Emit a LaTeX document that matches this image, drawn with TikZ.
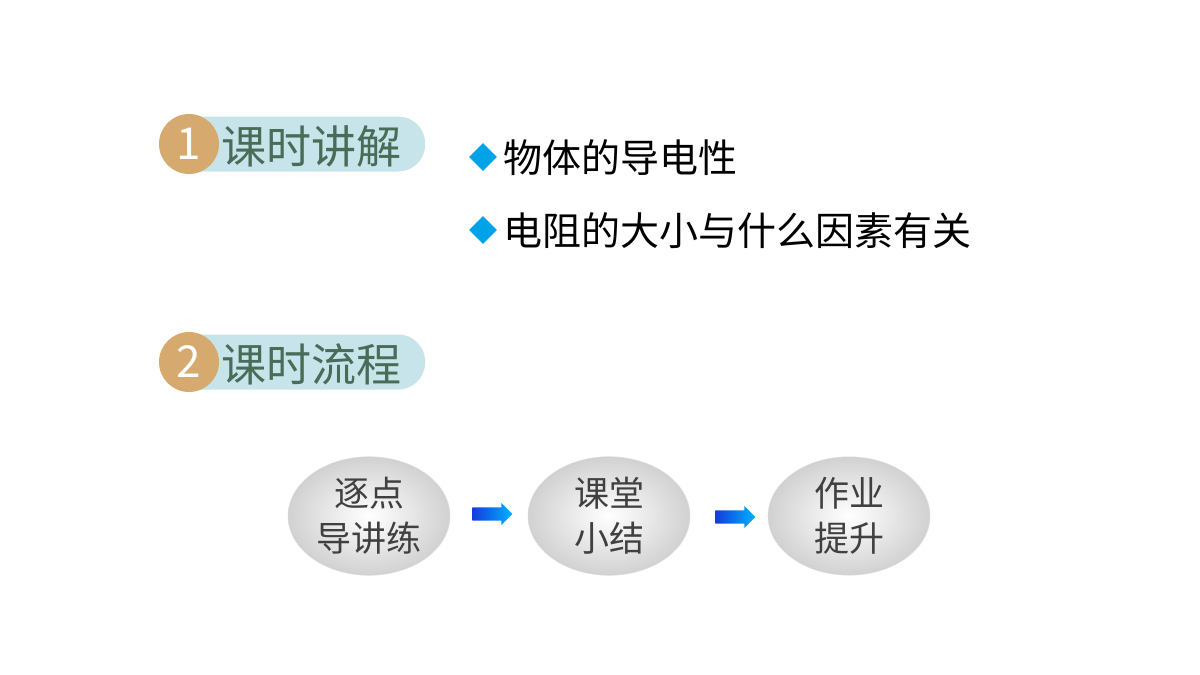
\documentclass[tikz,border=0pt]{standalone}
\usepackage{fontspec}
\setmainfont{Noto Sans CJK SC}
\usetikzlibrary{shapes,arrows,positioning,calc}
\definecolor{badgetan}{RGB}{214,170,110}
\definecolor{pillblue}{RGB}{198,228,234}
\definecolor{titlegreen}{RGB}{72,108,88}
\definecolor{bulletcyan}{RGB}{0,162,232}
\definecolor{arrowblue}{RGB}{20,60,220}
\tikzset{
  pill/.style={fill=pillblue,rounded corners=27pt,minimum width=262pt,minimum height=55pt,anchor=west},
  badge/.style={circle,fill=badgetan,minimum size=60pt,inner sep=0pt,text=white,font=\fontsize{44}{44}\selectfont},
  title/.style={text=titlegreen,font=\fontsize{45}{48}\selectfont,anchor=west},
  bullet/.style={diamond,fill=bulletcyan,minimum size=28pt,inner sep=0pt},
  item/.style={font=\fontsize{39}{42}\selectfont,anchor=west},
  stepball/.style={ellipse,minimum width=162pt,minimum height=116pt,inner color=white,outer color=black!18,draw=black!12,text=black!75,align=center,font=\fontsize{35}{45}\selectfont},
  flowarrow/.style={single arrow,minimum width=22pt,single arrow head extend=4pt,minimum height=40pt,inner xsep=0pt,inner ysep=6pt,left color=arrowblue,right color=cyan!70!blue}
}
\begin{document}
\begin{tikzpicture}[x=1pt,y=-1pt]
  \useasboundingbox (0,0) rectangle (1200,675);
  % section headings
  \node[pill] (pill1) at (163,144) {};
  \node[badge] (badge1) at (189,144) {1};
  \node[title] (title1) at (218,146) {课时讲解};
  \node[pill] (pill2) at (163,362) {};
  \node[badge] (badge2) at (189,362) {2};
  \node[title] (title2) at (218,364) {课时流程};
  % topics
  \node[bullet] (dot1) at (483,157) {};
  \node[item] (item1) at (500,158) {物体的导电性};
  \node[bullet] (dot2) at (483,230) {};
  \node[item] (item2) at (500,231) {电阻的大小与什么因素有关};
  % flow
  \node[stepball] (ball1) at (369,516) {逐点\\导讲练};
  \node[stepball] (ball2) at (609,516) {课堂\\小结};
  \node[stepball] (ball3) at (849,516) {作业\\提升};
  \node[flowarrow] (arr1) at (489,514) {};
  \node[flowarrow] (arr2) at (732,517) {};
\end{tikzpicture}
\end{document}
